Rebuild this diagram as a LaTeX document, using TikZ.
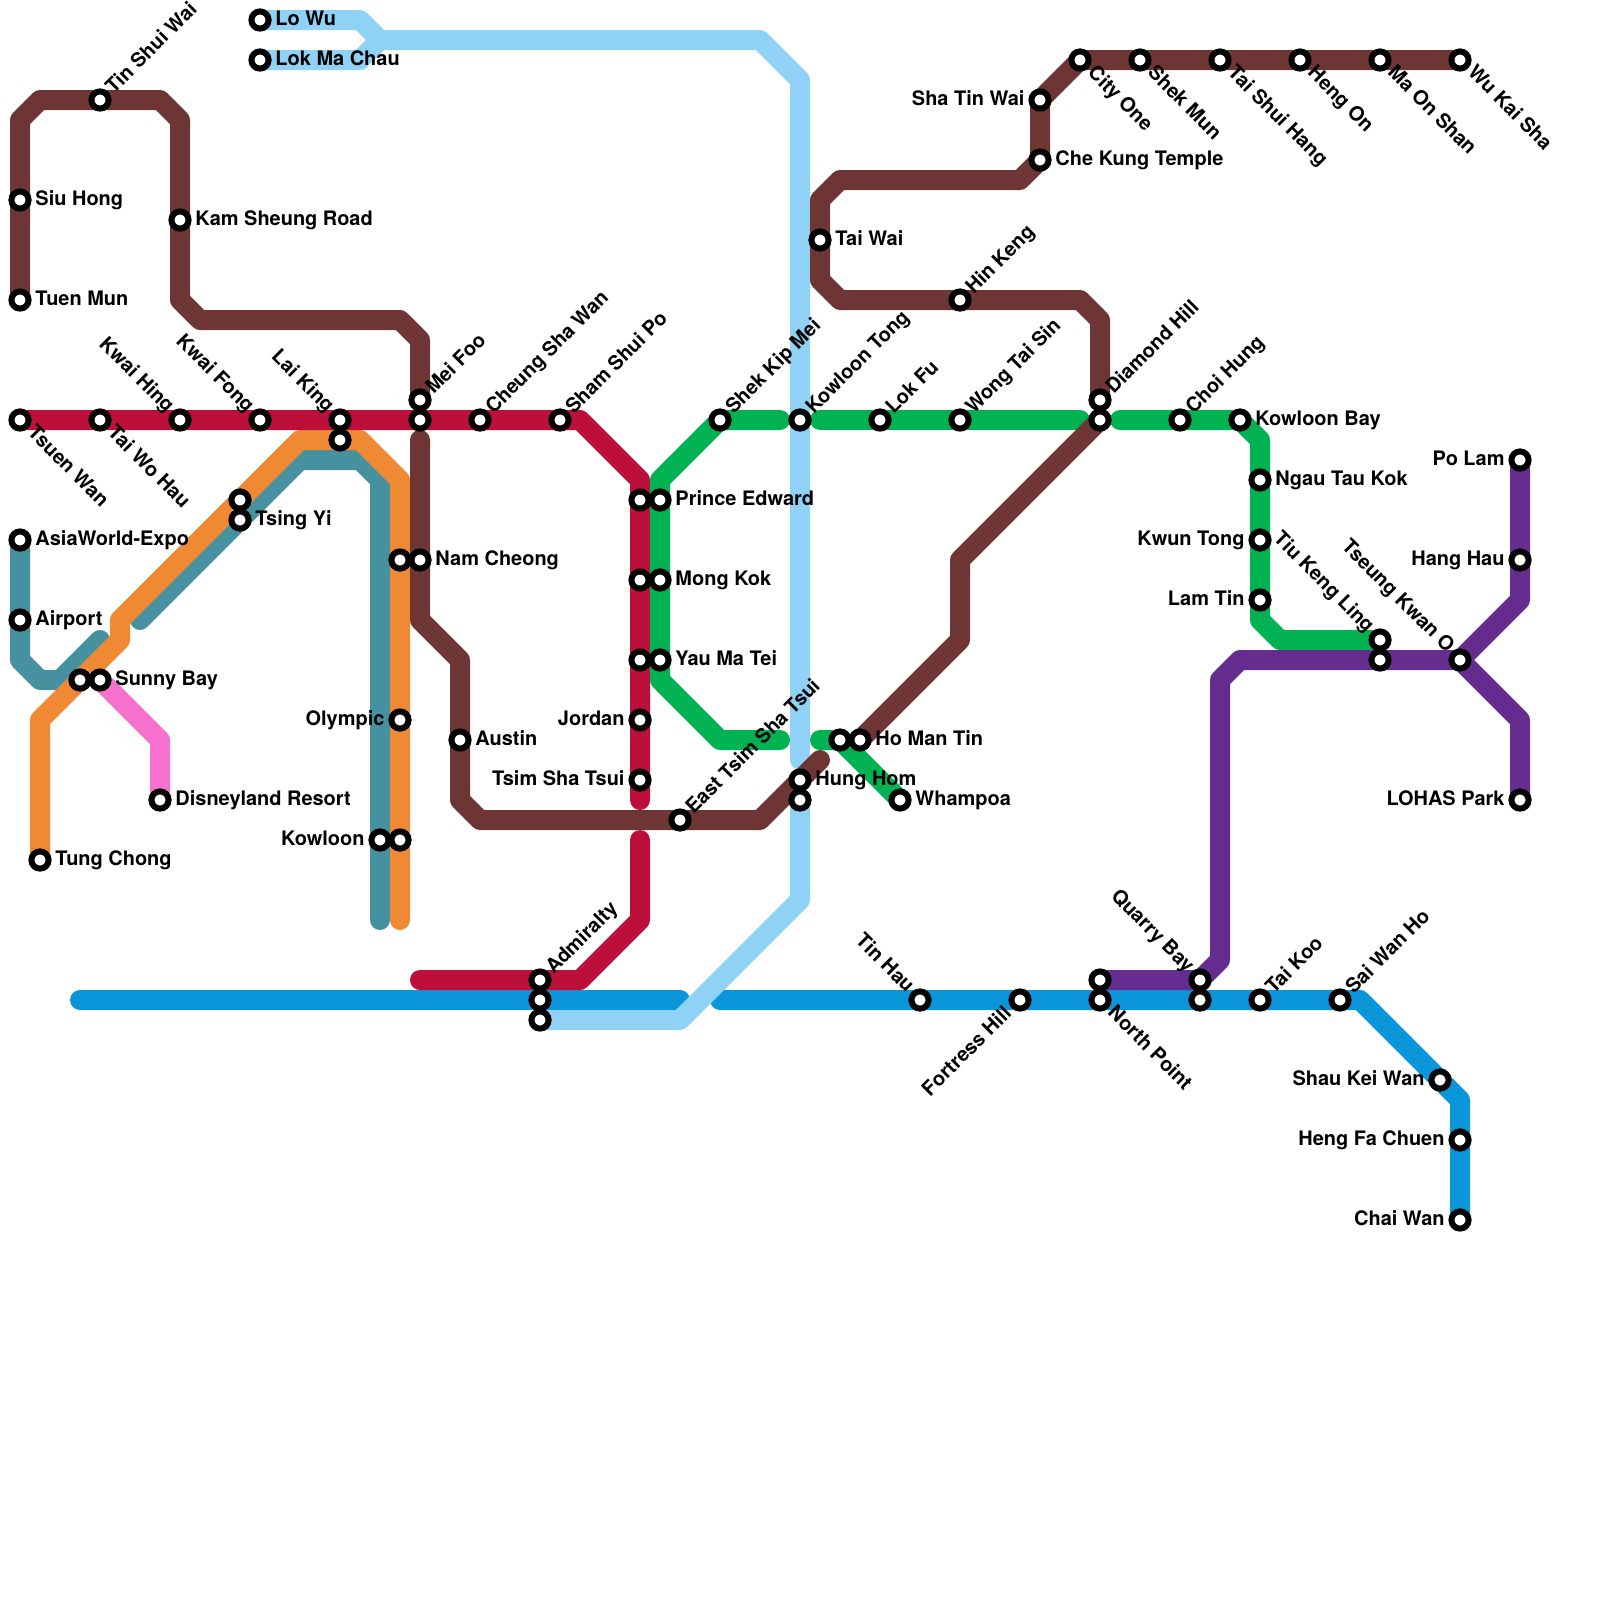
\documentclass[tikz,border=0pt]{standalone}
\usepackage{fontspec}
\setmainfont{TeX Gyre Heros}
\pgfdeclarelayer{lines}
\pgfsetlayers{lines,main}
\definecolor{tsuenred}{HTML}{BC0F39}
\definecolor{tuenbrown}{HTML}{6E3535}
\definecolor{airportblue}{HTML}{8FD2F5}
\definecolor{islandblue}{HTML}{0A96D8}
\definecolor{kwungreen}{HTML}{00B251}
\definecolor{tungorange}{HTML}{F08934}
\definecolor{airteal}{HTML}{45919F}
\definecolor{disneypink}{HTML}{F772CE}
\definecolor{tkopurple}{HTML}{662D91}
\tikzset{
  stn/.style={circle,draw=black,fill=white,line width=.15cm,minimum size=.43cm,inner sep=0pt},
  lbl/.style={font=\fontsize{14.2}{16}\selectfont\bfseries,inner sep=0pt,text height=7.2pt,text depth=0pt},
  lblE/.style={lbl,anchor=west,xshift=.38cm},
  lblW/.style={lbl,anchor=east,xshift=-.38cm},
  lblNE/.style={lbl,rotate=45,anchor=west,xshift=.33cm,yshift=-.025cm},
  lblSE/.style={lbl,rotate=-45,anchor=west,xshift=.36cm},
  lblNW/.style={lbl,rotate=-45,anchor=east,xshift=-.35cm},
  lblSW/.style={lbl,rotate=45,anchor=east,xshift=-.38cm},
  metro/.style={line width=.5cm,line cap=round,line join=round}
}
\begin{document}
\begin{tikzpicture}[x=.5cm,y=-.5cm]
        \useasboundingbox (0,0) rectangle (80,80);

        % Tsuen Wan line
        \node[stn] (tsuenwan) at (1,21) {}; \node[lblSE] (tsuenwant) at (tsuenwan.center) {Tsuen Wan};
        \node[stn] (taiwohau) at (5,21) {}; \node[lblSE] (taiwohaut) at (taiwohau.center) {Tai Wo Hau};
        \node[stn] (kwaihing) at (9,21) {}; \node[lblNW] (kwaihingt) at (kwaihing.center) {Kwai Hing};
        \node[stn] (kwaifong) at (13,21) {}; \node[lblNW] (kwaifongt) at (kwaifong.center) {Kwai Fong};
        \node[stn] (laiking) at (17,21) {}; \node[lblNW] (laikingt) at (laiking.center) {Lai King};
        \node[stn] (meifoo) at (21,21) {};
        \node[stn] (cheungshawan) at (24,21) {}; \node[lblNE] (cheungshawant) at (cheungshawan.center) {Cheung Sha Wan};
        \node[stn] (shamshuipo) at (28,21) {}; \node[lblNE] (shamshuipot) at (shamshuipo.center) {Sham Shui Po};
        \node[stn] (princeedward) at (32,25) {};
        \node[stn] (mongkok) at (32,29) {};
        \node[stn] (yaumatei) at (32,33) {};
        \node[stn] (jordan) at (32,36) {}; \node[lblW] (jordant) at (jordan.center) {Jordan};
        \node[stn] (tsimshatsui) at (32,39) {}; \node[lblW] (tsimshatsuit) at (tsimshatsui.center) {Tsim Sha Tsui};
        \node[stn] (admiralty) at (27,49) {}; \node[lblNE] (admiraltyt) at (admiralty.center) {Admiralty};

        % Tuen Ma line
        \node[stn] (tuenmun) at (1,15) {}; \node[lblE] (tuenmunt) at (tuenmun.center) {Tuen Mun};
        \node[stn] (siuhong) at (1,10) {}; \node[lblE] (siuhongt) at (siuhong.center) {Siu Hong};
        \node[stn] (tinshuiwai) at (5,5) {}; \node[lblNE] (tinshuiwait) at (tinshuiwai.center) {Tin Shui Wai};
        \node[stn] (kamsheung) at (9,11) {}; \node[lblE] (kamsheungt) at (kamsheung.center) {Kam Sheung Road};
        \node[stn] (meifoob) at (21,20) {}; \node[lblNE] (meifoot) at (meifoob.center) {Mei Foo};
        \node[stn] (namcheong) at (21,28) {}; \node[lblE] (namcheongt) at (namcheong.center) {Nam Cheong};
        \node[stn] (austin) at (23,37) {}; \node[lblE] (austint) at (austin.center) {Austin};
        \node[stn] (easttst) at (34,41) {}; \node[lblNE] (easttstt) at (easttst.center) {East Tsim Sha Tsui};
        \node[stn] (hunghom) at (40,39) {}; \node[lblE] (hunghomt) at (hunghom.center) {Hung Hom};
        \node[stn] (homantin) at (43,37) {}; \node[lblE] (homantint) at (homantin.center) {Ho Man Tin};
        \node[stn] (diamondhill) at (55,21) {};
        \node[stn] (diamondhillb) at (55,20) {}; \node[lblNE] (diamondhillt) at (diamondhillb.center) {Diamond Hill};
        \node[stn] (hinkeng) at (48,15) {}; \node[lblNE] (hinkengt) at (hinkeng.center) {Hin Keng};
        \node[stn] (taiwai) at (41,12) {}; \node[lblE] (taiwait) at (taiwai.center) {Tai Wai};
        \node[stn] (chekung) at (52,8) {}; \node[lblE] (chekungt) at (chekung.center) {Che Kung Temple};
        \node[stn] (shatinwai) at (52,5) {}; \node[lblW] (shatinwait) at (shatinwai.center) {Sha Tin Wai};
        \node[stn] (cityone) at (54,3) {}; \node[lblSE] (cityonet) at (cityone.center) {City One};
        \node[stn] (shekmun) at (57,3) {}; \node[lblSE] (shekmunt) at (shekmun.center) {Shek Mun};
        \node[stn] (taishuihang) at (61,3) {}; \node[lblSE] (taishuihangt) at (taishuihang.center) {Tai Shui Hang};
        \node[stn] (hengon) at (65,3) {}; \node[lblSE] (hengont) at (hengon.center) {Heng On};
        \node[stn] (maonshan) at (69,3) {}; \node[lblSE] (maonshant) at (maonshan.center) {Ma On Shan};
        \node[stn] (wukaisha) at (73,3) {}; \node[lblSE] (wukaishat) at (wukaisha.center) {Wu Kai Sha};

        % Kwun Tong line
        \node[stn] (princeedwardg) at (33,25) {}; \node[lblE] (princeedwardt) at (princeedwardg.center) {Prince Edward};
        \node[stn] (mongkokg) at (33,29) {}; \node[lblE] (mongkokt) at (mongkokg.center) {Mong Kok};
        \node[stn] (yaumateig) at (33,33) {}; \node[lblE] (yaumateit) at (yaumateig.center) {Yau Ma Tei};
        \node[stn] (shekkipmei) at (36,21) {}; \node[lblNE] (shekkipmeit) at (shekkipmei.center) {Shek Kip Mei};
        \node[stn] (kowloontong) at (40,21) {}; \node[lblNE] (kowloontongt) at (kowloontong.center) {Kowloon Tong};
        \node[stn] (lokfu) at (44,21) {}; \node[lblNE] (lokfut) at (lokfu.center) {Lok Fu};
        \node[stn] (wongtaisin) at (48,21) {}; \node[lblNE] (wongtaisint) at (wongtaisin.center) {Wong Tai Sin};
        \node[stn] (choihung) at (59,21) {}; \node[lblNE] (choihungt) at (choihung.center) {Choi Hung};
        \node[stn] (kowloonbay) at (62,21) {}; \node[lblE] (kowloonbayt) at (kowloonbay.center) {Kowloon Bay};
        \node[stn] (ngautaukok) at (63,24) {}; \node[lblE] (ngautaukokt) at (ngautaukok.center) {Ngau Tau Kok};
        \node[stn] (kwuntong) at (63,27) {}; \node[lblW] (kwuntongt) at (kwuntong.center) {Kwun Tong};
        \node[stn] (lamtin) at (63,30) {}; \node[lblW] (lamtint) at (lamtin.center) {Lam Tin};
        \node[stn] (tiukengling) at (69,32) {}; \node[lblNW] (tiukenglingt) at (tiukengling.center) {Tiu Keng Ling};
        \node[stn] (homanting) at (42,37) {};
        \node[stn] (whampoa) at (45,40) {}; \node[lblE] (whampoat) at (whampoa.center) {Whampoa};

        % Airport line and Tung Chung line
        \node[stn] (asiaworld) at (1,27) {}; \node[lblE] (asiaworldt) at (asiaworld.center) {AsiaWorld-Expo};
        \node[stn] (airport) at (1,31) {}; \node[lblE] (airportt) at (airport.center) {Airport};
        \node[stn] (tsingyi) at (12,26) {}; \node[lblE] (tsingyit) at (tsingyi.center) {Tsing Yi};
        \node[stn] (tsingyio) at (12,25) {};
        \node[stn] (laikingo) at (17,22) {};
        \node[stn] (kowloont) at (19,42) {}; \node[lblW] (kowloontt) at (kowloont.center) {Kowloon};
        \node[stn] (kowloono) at (20,42) {};
        \node[stn] (olympic) at (20,36) {}; \node[lblW] (olympict) at (olympic.center) {Olympic};
        \node[stn] (namcheongo) at (20,28) {};
        \node[stn] (tungchong) at (2,43) {}; \node[lblE] (tungchongt) at (tungchong.center) {Tung Chong};
        \node[stn] (sunnybayo) at (4,34) {};
        \node[stn] (sunnybay) at (5,34) {}; \node[lblE] (sunnybayt) at (sunnybay.center) {Sunny Bay};
        \node[stn] (disney) at (8,40) {}; \node[lblE] (disneyt) at (disney.center) {Disneyland Resort};
        \node[stn] (lowu) at (13,1) {}; \node[lblE] (lowut) at (lowu.center) {Lo Wu};
        \node[stn] (lokmachau) at (13,3) {}; \node[lblE] (lokmachaut) at (lokmachau.center) {Lok Ma Chau};
        \node[stn] (hunghoma) at (40,40) {};
        \node[stn] (admiraltya) at (27,51) {};

        % Island line
        \node[stn] (admiraltyi) at (27,50) {};
        \node[stn] (tinhau) at (46,50) {}; \node[lblNW] (tinhaut) at (tinhau.center) {Tin Hau};
        \node[stn] (fortresshill) at (51,50) {}; \node[lblSW] (fortresshillt) at (fortresshill.center) {Fortress Hill};
        \node[stn] (northpoint) at (55,50) {}; \node[lblSE] (northpointt) at (northpoint.center) {North Point};
        \node[stn] (quarrybayi) at (60,50) {};
        \node[stn] (taikoo) at (63,50) {}; \node[lblNE] (taikoot) at (taikoo.center) {Tai Koo};
        \node[stn] (saiwanho) at (67,50) {}; \node[lblNE] (saiwanhot) at (saiwanho.center) {Sai Wan Ho};
        \node[stn] (shaukeiwan) at (72,54) {}; \node[lblW] (shaukeiwant) at (shaukeiwan.center) {Shau Kei Wan};
        \node[stn] (hengfachuen) at (73,57) {}; \node[lblW] (hengfachuent) at (hengfachuen.center) {Heng Fa Chuen};
        \node[stn] (chaiwan) at (73,61) {}; \node[lblW] (chaiwant) at (chaiwan.center) {Chai Wan};

        % Tseung Kwan O line
        \node[stn] (northpointp) at (55,49) {};
        \node[stn] (quarrybay) at (60,49) {}; \node[lblNW] (quarrybayt) at (quarrybay.center) {Quarry Bay};
        \node[stn] (tiukenglingp) at (69,33) {};
        \node[stn] (tseungkwano) at (73,33) {}; \node[lblNW] (tseungkwanot) at (tseungkwano.center) {Tseung Kwan O};
        \node[stn] (hanghau) at (76,28) {}; \node[lblW] (hanghaut) at (hanghau.center) {Hang Hau};
        \node[stn] (polam) at (76,23) {}; \node[lblW] (polamt) at (polam.center) {Po Lam};
        \node[stn] (lohas) at (76,40) {}; \node[lblW] (lohast) at (lohas.center) {LOHAS Park};

        % Free line ends
        \coordinate (tealend) at (5,32);
        \coordinate (tealstart) at (7,31);
        \coordinate (tealfoot) at (19,46);
        \coordinate (orangefoot) at (20,46);
        \coordinate (redend) at (32,40);
        \coordinate (redstart) at (32,42);
        \coordinate (redfoot) at (21,49);
        \coordinate (meifootop) at (21,22);
        \coordinate (brownend) at (41,38);
        \coordinate (blueleft) at (4,50);
        \coordinate (bluemid) at (34,50);
        \coordinate (blueright) at (36,50);
        \coordinate (airportend) at (40,38);
        \coordinate (greenA) at (39,21);
        \coordinate (greenB) at (41,21);
        \coordinate (greenC) at (54,21);
        \coordinate (greenD) at (56,21);
        \coordinate (greenE) at (39,37);
        \coordinate (greenF) at (41,37);

        \begin{pgfonlayer}{lines}
        % Lines
        \draw[metro,airteal] (asiaworld.center) -- (airport.center) -- (1,33) -- (2,34) -- (3,34) -- (tealend);
        \draw[metro,airteal] (tealstart) -- (tsingyi.center) -- (15,23) -- (18,23) -- (19,24) -- (kowloont.center) -- (tealfoot);
        \draw[metro,tungorange] (tungchong.center) -- (2,36) -- (sunnybayo.center) -- (6,32) -- (6,31) -- (tsingyio.center) -- (15,22) -- (laikingo.center) -- (18,22) -- (20,24) -- (namcheongo.center) -- (olympic.center) -- (kowloono.center) -- (orangefoot);
        \draw[metro,disneypink] (sunnybay.center) -- (8,37) -- (disney.center);
        \draw[metro,islandblue] (blueleft) -- (admiraltyi.center) -- (bluemid);
        \draw[metro,islandblue] (blueright) -- (tinhau.center) -- (fortresshill.center) -- (northpoint.center) -- (quarrybayi.center) -- (taikoo.center) -- (saiwanho.center) -- (68,50) -- (shaukeiwan.center) -- (73,55) -- (hengfachuen.center) -- (chaiwan.center);
        \draw[metro,airportblue] (lowu.center) -- (18,1) -- (19,2) -- (38,2) -- (40,4) -- (kowloontong.center) -- (airportend);
        \draw[metro,airportblue] (lokmachau.center) -- (18,3) -- (19,2);
        \draw[metro,airportblue] (hunghoma.center) -- (40,45) -- (34,51) -- (admiraltya.center);
        \draw[metro,tsuenred] (tsuenwan.center) -- (taiwohau.center) -- (kwaihing.center) -- (kwaifong.center) -- (laiking.center) -- (meifoo.center) -- (cheungshawan.center) -- (shamshuipo.center) -- (29,21) -- (32,24) -- (princeedward.center) -- (mongkok.center) -- (yaumatei.center) -- (jordan.center) -- (tsimshatsui.center) -- (redend);
        \draw[metro,tsuenred] (redstart) -- (32,46) -- (29,49) -- (admiralty.center) -- (redfoot);
        \draw[metro,kwungreen] (greenA) -- (shekkipmei.center) -- (33,24) -- (princeedwardg.center) -- (mongkokg.center) -- (yaumateig.center) -- (33,34) -- (36,37) -- (greenE);
        \draw[metro,kwungreen] (greenF) -- (homanting.center) -- (whampoa.center);
        \draw[metro,kwungreen] (greenB) -- (lokfu.center) -- (wongtaisin.center) -- (greenC);
        \draw[metro,kwungreen] (greenD) -- (choihung.center) -- (kowloonbay.center) -- (63,22) -- (ngautaukok.center) -- (kwuntong.center) -- (lamtin.center) -- (63,31) -- (64,32) -- (tiukengling.center);
        \draw[metro,tkopurple] (northpointp.center) -- (quarrybay.center) -- (61,48) -- (61,34) -- (62,33) -- (tiukenglingp.center) -- (tseungkwano.center) -- (76,30) -- (hanghau.center) -- (polam.center);
        \draw[metro,tkopurple] (tseungkwano.center) -- (76,36) -- (lohas.center);
        \draw[metro,tuenbrown] (tuenmun.center) -- (siuhong.center) -- (1,6) -- (2,5) -- (tinshuiwai.center) -- (8,5) -- (9,6) -- (kamsheung.center) -- (9,15) -- (10,16) -- (20,16) -- (21,17) -- (meifoob.center);
        \draw[metro,tuenbrown] (meifootop) -- (namcheong.center) -- (21,31) -- (23,33) -- (austin.center) -- (23,40) -- (24,41) -- (easttst.center) -- (38,41) -- (hunghom.center) -- (brownend);
        \draw[metro,tuenbrown] (homantin.center) -- (48,32) -- (48,28) -- (diamondhill.center);
        \draw[metro,tuenbrown] (diamondhillb.center) -- (55,16) -- (54,15) -- (hinkeng.center) -- (42,15) -- (41,14) -- (taiwai.center) -- (41,10) -- (42,9) -- (51,9) -- (chekung.center) -- (shatinwai.center) -- (cityone.center) -- (shekmun.center) -- (taishuihang.center) -- (hengon.center) -- (maonshan.center) -- (wukaisha.center);
        \end{pgfonlayer}
    \end{tikzpicture}
\end{document}
